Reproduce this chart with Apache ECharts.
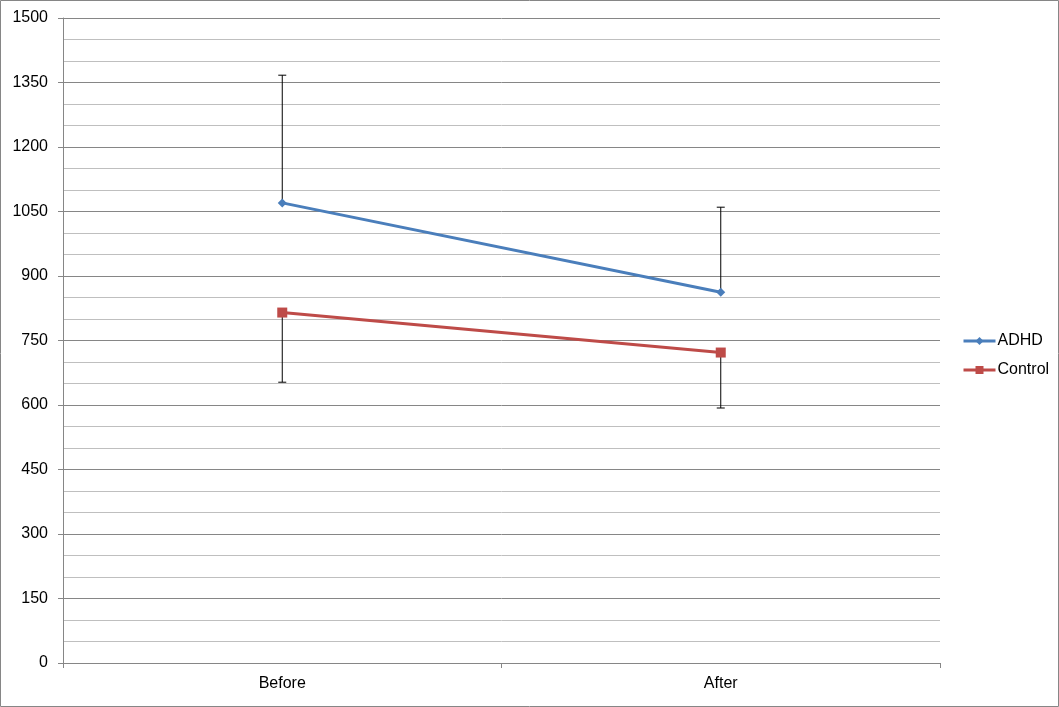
<!DOCTYPE html>
<html>
<head>
<meta charset="utf-8">
<script src="https://cdn.jsdelivr.net/npm/echarts@6/dist/echarts.min.js"></script>
<style>html,body{margin:0;padding:0;background:#fff}#c{width:1059px;height:707px}</style>
</head>
<body>
<div id="c"></div>
<script>
const categories = ['Before', 'After'];
const adhd = [1070, 862];
const control = [815, 722];
const adhdErrHigh = [1367, 1060];
const controlErrLow = [653, 593];
const yTicks = [0, 150, 300, 450, 600, 750, 900, 1050, 1200, 1350, 1500];

const chart = echarts.init(document.getElementById('c'));
const font = 'Liberation Sans, Arial, sans-serif';

function errSeries(means, ends) {
  return {
    type: 'custom',
    z: 1,
    silent: true,
    data: means.map((m, i) => [i, m, ends[i]]),
    renderItem: function (params, api) {
      const p0 = api.coord([api.value(0), api.value(1)]);
      const p1 = api.coord([api.value(0), api.value(2)]);
      const cw = 4;
      return {
        type: 'group',
        children: [
          { type: 'line', shape: { x1: p0[0], y1: p0[1], x2: p1[0], y2: p1[1] }, style: { stroke: '#000', lineWidth: 1 } },
          { type: 'line', shape: { x1: p1[0] - cw, y1: p1[1], x2: p1[0] + cw, y2: p1[1] }, style: { stroke: '#000', lineWidth: 1 } }
        ]
      };
    }
  };
}

chart.setOption({
  animation: false,
  backgroundColor: '#fff',
  graphic: [{ type: 'rect', shape: { x: 0.5, y: 0.5, width: 1058, height: 706 }, style: { fill: 'none', stroke: '#868686', lineWidth: 1 }, silent: true }],
  grid: { left: 63, right: 119, top: 18, bottom: 44 },
  legend: {
    orient: 'vertical',
    left: 957,
    top: 328,
    itemGap: 13,
    itemWidth: 32,
    itemHeight: 10,
    textStyle: { fontFamily: font, fontSize: 16, color: '#000', padding: [0, 0, 0, -3] },
    lineStyle: { width: 3 },
    data: ['ADHD', 'Control']
  },
  xAxis: {
    type: 'category',
    data: categories,
    boundaryGap: true,
    axisLine: { lineStyle: { color: '#868686', width: 1 } },
    axisTick: { show: true, length: 5, lineStyle: { color: '#868686' } },
    axisLabel: { fontFamily: font, fontSize: 16, color: '#000', margin: 13 },
    splitLine: { show: false }
  },
  yAxis: {
    type: 'value',
    min: yTicks[0],
    max: yTicks[yTicks.length - 1],
    interval: 150,
    axisLine: { show: true, lineStyle: { color: '#868686', width: 1 } },
    axisTick: { show: true, length: 5, lineStyle: { color: '#868686' } },
    axisLabel: { fontFamily: font, fontSize: 16, color: '#000', margin: 15, formatter: v => String(v) },
    splitLine: { show: true, lineStyle: { color: '#868686', width: 1 } },
    minorTick: { show: false, splitNumber: 3 },
    minorSplitLine: { show: true, lineStyle: { color: '#bfbfbf', width: 1 } }
  },
  series: [
    errSeries(adhd, adhdErrHigh),
    errSeries(control, controlErrLow),
    {
      name: 'ADHD', type: 'line', data: adhd, z: 3,
      symbol: 'diamond', symbolSize: 9,
      lineStyle: { color: '#4a7ebb', width: 3 },
      itemStyle: { color: '#4a7ebb' }
    },
    {
      name: 'Control', type: 'line', data: control, z: 3,
      symbol: 'rect', symbolSize: 10,
      lineStyle: { color: '#be4b48', width: 3 },
      itemStyle: { color: '#be4b48' }
    }
  ]
});
</script>
</body>
</html>
